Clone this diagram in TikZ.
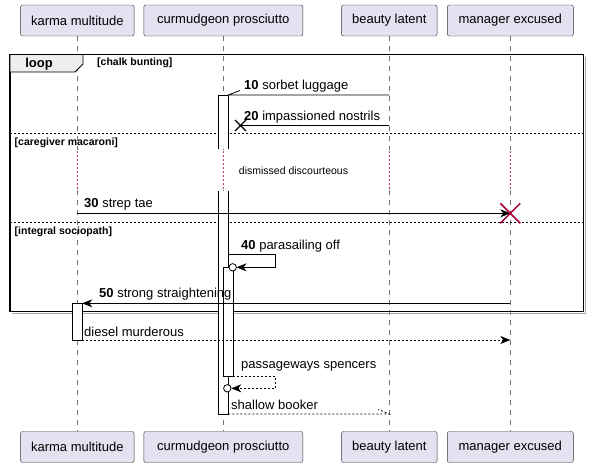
\documentclass[tikz,border=0pt]{standalone}
\usepackage{fontspec}
\setmainfont{Liberation Sans}
\usetikzlibrary{arrows.meta}
\definecolor{actorfill}{HTML}{E2E2F0}
\definecolor{crimson}{HTML}{A80036}
\definecolor{tabfill}{HTML}{EEEEEE}

\begin{document}
\begin{tikzpicture}[x=1pt, y=-1pt,
  actor/.style={draw=black!80, fill=actorfill, rounded corners=2pt, minimum height=31pt, inner sep=0pt, font=\fontsize{13}{15}\selectfont},
  life/.style={black!55, line width=0.6pt, dash pattern=on 5pt off 5pt},
  bar/.style={fill=white, draw=black, line width=0.8pt},
  msg/.style={line width=0.8pt, -{Stealth[length=10pt, width=8pt, inset=3pt]}},
  ret/.style={msg, dash pattern=on 2pt off 2pt},
  lbl/.style={font=\fontsize{13}{15}\selectfont, inner sep=0pt, anchor=west},
  guard/.style={font=\bfseries\fontsize{10.5}{12}\selectfont, inner sep=0pt, anchor=west}]
  \useasboundingbox (0,0) rectangle (589,467);

  \node[actor, minimum width=113.5pt] (karmaT) at (77.3,20.5) {karma multitude};
  \node[actor, minimum width=159pt] (curmT) at (223.3,20.5) {curmudgeon prosciutto};
  \node[actor, minimum width=95.5pt] (beautyT) at (389.3,20.5) {beauty latent};
  \node[actor, minimum width=126pt] (managerT) at (510.3,20.5) {manager excused};
  \node[actor, minimum width=113.5pt] (karmaB) at (77.3,447) {karma multitude};
  \node[actor, minimum width=159pt] (curmB) at (223.3,447) {curmudgeon prosciutto};
  \node[actor, minimum width=95.5pt] (beautyB) at (389.3,447) {beauty latent};
  \node[actor, minimum width=126pt] (managerB) at (510.3,447) {manager excused};

  \foreach \p in {karma,curm,beauty,manager}{
    \draw[life] (\p T.south) -- (\p T.south |- 0,150);
    \foreach \y in {152,156,...,188}
      \fill[crimson] (\p T.south |- 0,\y) circle (0.8);
    \draw[life] (\p T.south |- 0,190) -- (\p B.north);
  }

  % loop frame
  \draw[black!35, line width=1.5pt] (585.5,57) -- (585.5,313.5) -- (12,313.5);
  \draw[line width=1.5pt] (10,54.5) rectangle (583.5,311.5);
  \draw[fill=tabfill, line width=0.8pt] (10,54.5) -- (83,54.5) -- (83,64) -- (75,72) -- (10,72) -- cycle;
  \node[font=\bfseries\fontsize{13}{15}\selectfont, inner sep=0pt] (loop) at (39,64) {loop};
  \node[guard] (g1) at (97,63.3) {[chalk bunting]};
  \draw[line width=0.8pt, dash pattern=on 2pt off 2pt] (10,133) -- (583.5,133);
  \node[guard] (g2) at (14.5,142.5) {[caregiver macaroni]};
  \draw[line width=0.8pt, dash pattern=on 2pt off 2pt] (10,222.3) -- (583.5,222.3);
  \node[guard] (g3) at (14.5,231.5) {[integral sociopath]};

  % activations
  \fill[white] (218.3,95) rectangle (228.3,149);
  \draw[line width=0.8pt] (218.3,149) -- (218.3,95) -- (228.3,95) -- (228.3,149);
  \fill[white] (218.3,191) rectangle (228.3,414);
  \draw[line width=0.8pt] (218.3,191) -- (218.3,414) -- (228.3,414) -- (228.3,191);
  \draw[bar] (223.3,267.3) rectangle (233.3,376);
  \draw[bar] (72.3,303.3) rectangle (82.3,340);

  \coordinate (c10) at (228.3,95);
  \draw[line width=0.8pt] (beautyT |- c10) -- (c10) -- ++(11.7,-4.5);
  \node[lbl] (t10) at (244,86) {\textbf{10} sorbet luggage};

  \coordinate (c20) at (240.5,125.5);
  \draw[line width=0.8pt] (beautyT |- c20) -- (c20);
  \draw[line width=1.3pt] (c20) ++(-5.5,-5.5) -- ++(11,11) ++(0,-11) -- ++(-11,11);
  \node[lbl] (t20) at (244,116.7) {\textbf{20} impassioned nostrils};

  \node[font=\fontsize{10.5}{12}\selectfont, inner sep=0pt] (delay) at (293.5,170.7) {dismissed discourteous};

  \coordinate (c30) at (managerT |- 0,213.3);
  \draw[msg] (karmaT |- c30) -- (c30);
  \draw[crimson, line width=1.5pt] (c30) ++(-10,-10) -- ++(20,20) ++(0,-20) -- ++(-20,20);
  \node[lbl] (t30) at (84,204) {\textbf{30} strep tae};

  \coordinate (c40) at (236.5,267.3);
  \draw[msg] (228.3,254.3) -- (275.7,254.3) -- (275.7,0 |- c40) -- (c40);
  \draw[fill=white, line width=0.8pt] (232.7,267.3) circle (3.7);
  \node[lbl] (t40) at (241,246) {\textbf{40} parasailing off};

  \coordinate (c50) at (82.3,303.3);
  \draw[msg] (managerT |- c50) -- (c50);
  \node[lbl] (t50) at (99,294) {\textbf{50} strong straightening};

  \coordinate (c60) at (82.3,340);
  \draw[ret] (c60) -- (managerT |- c60);
  \node[lbl] (t60) at (84,331.7) {diesel murderous};

  \coordinate (c70) at (231.3,388.3);
  \draw[ret] (233.3,376) -- (275.7,376) -- (275.7,0 |- c70) -- (c70);
  \draw[fill=white, line width=0.8pt] (227.3,388.3) circle (3.7);
  \node[lbl] (t70) at (241,366.7) {passageways spencers};

  \coordinate (c80) at (228.3,414);
  \draw[line width=0.8pt, dash pattern=on 2pt off 2pt] (c80) -- (beautyT |- c80) -- ++(-11,-4.5);
  \node[lbl] (t80) at (231,405) {shallow booker};
\end{tikzpicture}
\end{document}
